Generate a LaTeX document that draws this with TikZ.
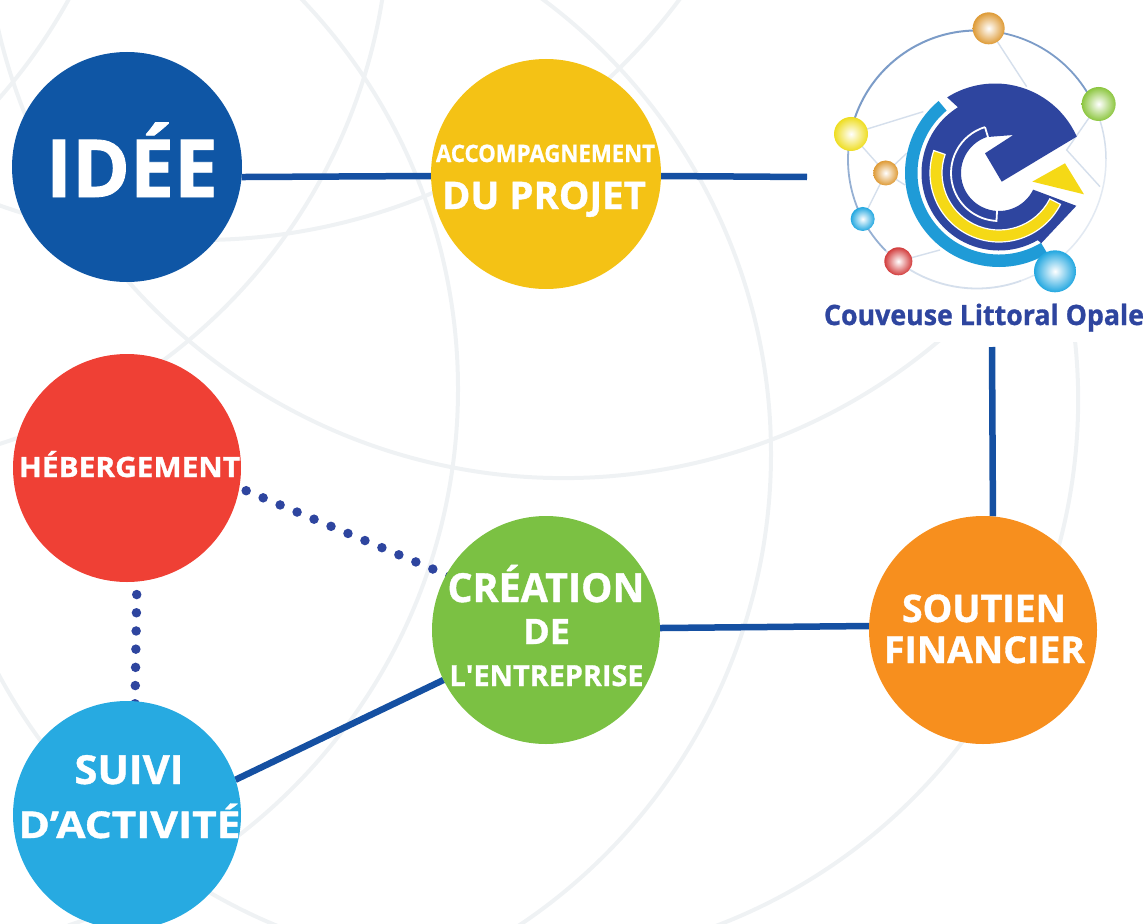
\documentclass[tikz,border=0pt]{standalone}
\usepackage{fontspec}
\usepackage{graphicx}
\usetikzlibrary{calc}
\setmainfont{Open Sans}[BoldFont={Open Sans Bold},BoldFeatures={FakeBold=1}]
\definecolor{ideeC}{HTML}{0F56A5}
\definecolor{accC}{HTML}{F4C215}
\definecolor{hebC}{HTML}{EF4035}
\definecolor{creaC}{HTML}{7BC143}
\definecolor{soutC}{HTML}{F78F1E}
\definecolor{suivC}{HTML}{27AAE1}
\definecolor{linkC}{HTML}{1550A2}
\definecolor{dotC}{HTML}{2E459F}
\definecolor{bgarc}{HTML}{EFF2F4}
\definecolor{logoB}{HTML}{2E459F}
\definecolor{logoL}{HTML}{1F9BD7}
\definecolor{logoY}{HTML}{F5D916}
\definecolor{ringC}{HTML}{7C9CC8}
\definecolor{paleC}{HTML}{D5DFEC}
\definecolor{ballO}{HTML}{DE9A35}
\definecolor{ballG}{HTML}{8CC63F}
\definecolor{ballY}{HTML}{EEDD20}
\definecolor{ballB}{HTML}{22A7E0}
\definecolor{ballR}{HTML}{D23C3C}
\pgfdeclarelayer{bg}\pgfdeclarelayer{links}
\pgfsetlayers{bg,links,main}
\tikzset{
  disc/.style={circle,inner sep=0pt,minimum size=#1*2pt,outer sep=0pt},
  solidlink/.style={draw=linkC,line width=6.5pt},
  dotlink/.style={draw=dotC,line width=9.5pt,line cap=round},
  txt/.style={inner sep=0pt,outer sep=0pt,anchor=base,text=white,font=\bfseries},
  palearc/.style={draw=bgarc,line width=4pt},
  paleline/.style={draw=paleC,line width=1.4pt}
}
\newcommand\lbl[6]{\node[txt] (#1) at (#2,#3) {\fontsize{#4}{#4}\selectfont\resizebox{#5pt}{\height}{#6}};}
\newcommand\barc[5]{\begin{scope}[shift={(#1,#2)},x=1pt,y=1pt]\draw[palearc] (#4:#3) arc[start angle=#4,end angle=#5,radius=#3pt];\end{scope}}
\newcommand\annul[5]{\fill[#1] (#2:#4) arc[start angle=#2,end angle=#3,radius=#4pt] -- (#3:#5) arc[start angle=#3,end angle=#2,radius=#5pt] -- cycle;}
\newcommand\ball[4]{\shade[inner color=white,outer color=#1] (#2,#3) circle[radius=#4pt];}
\begin{document}
\begin{tikzpicture}[x=1pt,y=-1pt]
\useasboundingbox (0,0) rectangle (1145,923);
\begin{pgfonlayer}{bg}
  \clip (0,0) rectangle (1145,923);
  \barc{564}{-103}{581}{190}{325}
  \barc{-169}{-88}{558}{10}{-75}
  \barc{-106}{389}{564}{45}{-72}
  \barc{490}{410}{558}{207}{250}
  \barc{-420}{-270}{558}{-25}{-45}
  \barc{200}{-358}{598}{248}{325}
  \barc{204}{454}{567}{55}{-58}
  \barc{515}{400}{563}{20}{-70}
  \fill[white] (807,0) rectangle (1145,342);
\end{pgfonlayer}
% circles
\node[disc=115,fill=ideeC] (idee) at (127,167) {};
\node[disc=115,fill=accC] (acc) at (546,174) {};
\node[disc=114,fill=hebC] (heb) at (127,468) {};
\node[disc=114,fill=creaC] (crea) at (546,630) {};
\node[disc=114,fill=soutC] (sout) at (983,630) {};
\node[disc=114,fill=suivC] (suiv) at (127,815) {};
\coordinate (logoW) at (807,177);
\coordinate (logoS) at (992,347);
% connectors
\begin{pgfonlayer}{links}
  \draw[solidlink] (idee.355) -- (acc.181.5);
  \draw[solidlink] (acc.-1.5) -- (logoW);
  \draw[solidlink] (logoS) -- (sout.85.5);
  \draw[solidlink] (crea.1.5) -- (sout.178.5);
  \draw[solidlink] (suiv.18) -- (crea.206);
  \draw[dotlink,dash pattern=on 0pt off 18.4pt,dash phase=10.9pt] (heb.-10.7) -- ([shift={(12,5)}]crea.151);
  \draw[dotlink,dash pattern=on 0pt off 18.2pt,dash phase=5.2pt] (heb.-85.5) -- ([shift={(0,6)}]suiv.86.5);
\end{pgfonlayer}
% labels
\lbl{tIdee}{132}{197}{80}{172}{IDÉE}
\lbl{tAcc}{545.5}{162}{24}{219}{ACCOMPAGNEMENT}
\lbl{tPro}{544}{209}{38}{204}{DU PROJET}
\lbl{tHeb}{129.5}{477}{28}{221}{HÉBERGEMENT}
\lbl{tCre}{546}{602}{40}{197}{CRÉATION}
\lbl{tDe}{546.5}{644}{35}{47}{DE}
\lbl{tEnt}{546.5}{686}{29}{194}{L\textquotesingle ENTREPRISE}
\lbl{tSou}{984}{622}{38}{164}{SOUTIEN}
\lbl{tFin}{984.5}{663}{37}{201}{FINANCIER}
\lbl{tSui}{129}{784}{40}{109}{SUIVI}
\lbl{tAct}{129.5}{838}{37}{222}{D’ACTIVITÉ}
\node[txt,text=logoB] (tLogo) at (984,325) {\fontsize{28}{28}\selectfont\resizebox{320pt}{\height}{Couveuse Littoral Opale}};
% logo: thin network (reference zoom coordinates)
\begin{scope}[shift={(820,0)},x=0.3333pt,y=-0.3333pt]
  \draw[paleline] (506,85) -- (620,260);
  \draw[paleline] (93,402) -- (310,335);
  \draw[paleline] (93,402) -- (197,519) -- (260,460);
  \draw[paleline] (197,519) -- (128,657);
  \draw[paleline] (197,519) -- (255,555);
  \draw[paleline] (235,784) -- (360,750);
  \draw[paleline] (836,312) -- (740,450) -- (840,560);
\end{scope}
\begin{scope}[shift={(977,159.5)},x=1pt,y=1pt]
  \draw[ringC,line width=2pt] (85:129) arc[start angle=85,end angle=175,radius=129pt];
  \draw[ringC!80!white,line width=1.8pt] (175:129) arc[start angle=175,end angle=225,radius=129pt];
  \draw[paleC,line width=1.8pt] (225:129) arc[start angle=225,end angle=290,radius=129pt];
  \draw[paleC!70!white,line width=1.5pt] (290:129) arc[start angle=290,end angle=360,radius=129pt];
  \draw[paleC,line width=1.5pt] (0:129) arc[start angle=0,end angle=25,radius=129pt];
  \draw[ringC,line width=1.8pt] (25:129) arc[start angle=25,end angle=85,radius=129pt];
\end{scope}
\begin{scope}[shift={(999,173)},x=1pt,y=1pt]
  \annul{logoL}{130}{301}{94}{81.5}
  \fill[logoB]
    ($(-4,0)+(24:89.5)$) arc[start angle=24,end angle=122.3,radius=89.5pt]
    -- (122:77.5) arc[start angle=122,end angle=300,radius=77.5pt]
    -- (301:82) -- (337:84) -- (334:38)
    arc[start angle=334,delta angle=-225,radius=38pt]
    -- (14.3,38) -- (-14,19.7) -- (2.7,-8.7) -- cycle;
  \draw[white,line width=1.8pt] (107:48) arc[start angle=107,end angle=267,radius=48pt];
  \draw[white,line width=1.8pt] (107:37) -- (107:48);
  \draw[white,line width=1.8pt] (267:37) -- (267:49);
  \annul{logoY}{161}{333}{69}{57}
  \draw[white,line width=1.2pt] (161:69) arc[start angle=161,end angle=333,radius=69pt] -- (333:57) arc[start angle=333,end angle=161,radius=57pt] -- cycle;
\end{scope}
\begin{scope}[shift={(820,0)},x=0.3333pt,y=-0.3333pt]
  \fill[logoY] (637,545) -- (735,490) -- (792,583) -- cycle;
  \ball{ballO}{506}{85}{16}
  \ball{ballG}{836}{312}{17}
  \ball{ballY}{93}{402}{17}
  \ball{ballO}{197}{519}{12.5}
  \ball{ballB}{128}{657}{12}
  \ball{ballR}{235}{784}{14}
  \ball{ballB}{705}{814}{21}
\end{scope}
\end{tikzpicture}
\end{document}
